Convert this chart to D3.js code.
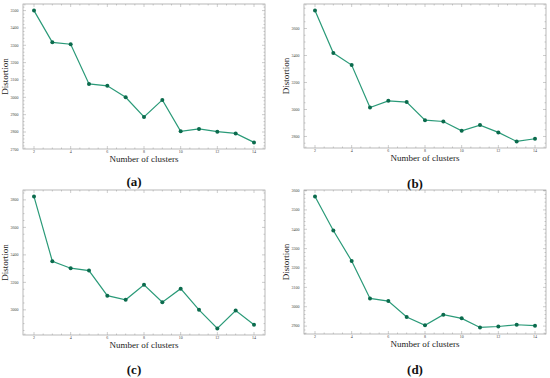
<!DOCTYPE html>
<html>
<head>
<meta charset="utf-8">
<script src="https://cdn.jsdelivr.net/npm/d3@7"></script>
<style>
  body { margin: 0; background: #fff; }
  svg { display: block; }
</style>
</head>
<body>
<script>
// data
var clusters = [2, 3, 4, 5, 6, 7, 8, 9, 10, 11, 12, 13, 14];
var distA = [3500, 3317, 3306, 3077, 3066, 3000, 2887, 2985, 2804, 2818, 2802, 2792, 2740];
var distB = [3733, 3418, 3329, 3015, 3064, 3055, 2921, 2911, 2842, 2884, 2830, 2763, 2783];
var distC = [3824, 3354, 3303, 3286, 3103, 3073, 3183, 3056, 3154, 3000, 2865, 2995, 2892];
var distD = [3569, 3394, 3236, 3043, 3029, 2947, 2904, 2959, 2940, 2893, 2898, 2907, 2902];

var xTicks = [2, 4, 6, 8, 10, 12, 14];
var yTicksA = [2700, 2800, 2900, 3000, 3100, 3200, 3300, 3400, 3500];
var yTicksB = [2800, 3000, 3200, 3400, 3600];
var yTicksC = [3000, 3200, 3400, 3600, 3800];
var yTicksD = [2900, 3000, 3100, 3200, 3300, 3400, 3500, 3600];
var panelLabels = ["(a)", "(b)", "(c)", "(d)"];

var lineColor = "#2a9a78";
var dotColor = "#0b6b4d";
var frameColor = "#9a9a9a";

var svg = d3.select("body").append("svg")
	.attr("width", 550)
	.attr("height", 378);

// frame boxes of the four panels
var panels = [
	{ vals: distA, ticks: yTicksA, yMinor: 20, left: 23, top: 4, right: 265, bottom: 149, labY: 181 },
	{ vals: distB, ticks: yTicksB, yMinor: 50, left: 304, top: 4, right: 546, bottom: 148, labY: 183 },
	{ vals: distC, ticks: yTicksC, yMinor: 50, left: 23, top: 190, right: 265, bottom: 335, labY: 369 },
	{ vals: distD, ticks: yTicksD, yMinor: 20, left: 304, top: 190, right: 546, bottom: 334, labY: 369 }
];

panels.forEach(function(p, i) {
	var g = svg.append("g");

	// matplotlib-like 5% margins
	var ext = d3.extent(p.vals);
	var pad = (ext[1] - ext[0]) * 0.05;
	var x = d3.scaleLinear().domain([1.4, 14.6]).range([p.left, p.right]);
	var y = d3.scaleLinear().domain([ext[0] - pad, ext[1] + pad]).range([p.bottom, p.top]);

	// minor ticks (inside, all four sides)
	var xMinor = d3.range(1.5, 14.6, 0.5);
	var yMin = Math.ceil(y.domain()[0] / p.yMinor) * p.yMinor;
	var yMinorVals = d3.range(yMin, y.domain()[1], p.yMinor);

	var ticks = g.append("g")
		.attr("stroke", frameColor)
		.attr("stroke-width", 0.5);

	xMinor.forEach(function(v) {
		var big = xTicks.indexOf(v) >= 0;
		var len = big ? 3 : 1.5;
		ticks.append("line").attr("x1", x(v)).attr("x2", x(v))
			.attr("y1", p.bottom).attr("y2", p.bottom - len);
		ticks.append("line").attr("x1", x(v)).attr("x2", x(v))
			.attr("y1", p.top).attr("y2", p.top + len);
	});
	yMinorVals.forEach(function(v) {
		var big = p.ticks.indexOf(v) >= 0;
		var len = big ? 3 : 1.5;
		ticks.append("line").attr("y1", y(v)).attr("y2", y(v))
			.attr("x1", p.left).attr("x2", p.left + len);
		ticks.append("line").attr("y1", y(v)).attr("y2", y(v))
			.attr("x1", p.right).attr("x2", p.right - len);
	});

	g.append("rect")
		.attr("x", p.left).attr("y", p.top)
		.attr("width", p.right - p.left).attr("height", p.bottom - p.top)
		.attr("fill", "none")
		.attr("stroke", frameColor)
		.attr("stroke-width", 0.7);

	// tick labels
	g.selectAll(".xt")
		.data(xTicks)
		.enter().append("text")
		.attr("x", function(d) { return x(d); })
		.attr("y", p.bottom + 4)
		.attr("text-anchor", "middle")
		.attr("font-family", "Liberation Serif")
		.attr("font-size", 4)
		.attr("fill", "#444")
		.text(function(d) { return d; });

	g.selectAll(".yt")
		.data(p.ticks)
		.enter().append("text")
		.attr("x", p.left - 4.5)
		.attr("y", function(d) { return y(d) + 1.3; })
		.attr("text-anchor", "end")
		.attr("font-family", "Liberation Serif")
		.attr("font-size", 4)
		.attr("fill", "#444")
		.text(function(d) { return d; });

	// axis titles
	g.append("text")
		.attr("x", (p.left + p.right) / 2)
		.attr("y", p.bottom + 12.5)
		.attr("text-anchor", "middle")
		.attr("font-family", "Liberation Serif")
		.attr("font-size", 9)
		.attr("fill", "#222")
		.text("Number of clusters");

	g.append("text")
		.attr("transform", "translate(" + (p.left - 15.5) + "," + ((p.top + p.bottom) / 2) + ") rotate(-90)")
		.attr("text-anchor", "middle")
		.attr("font-family", "Liberation Serif")
		.attr("font-size", 9)
		.attr("fill", "#222")
		.text("Distortion");

	// the series
	var line = d3.line()
		.x(function(d, j) { return x(clusters[j]); })
		.y(function(d) { return y(d); });

	g.append("path")
		.datum(p.vals)
		.attr("d", line)
		.attr("fill", "none")
		.attr("stroke", lineColor)
		.attr("stroke-width", 1.2);

	g.selectAll(".dot")
		.data(p.vals)
		.enter().append("circle")
		.attr("cx", function(d, j) { return x(clusters[j]); })
		.attr("cy", function(d) { return y(d); })
		.attr("r", 2)
		.attr("fill", dotColor);

	// sub-figure label
	svg.append("text")
		.attr("x", (p.left + p.right) / 2 - 10)
		.attr("y", p.labY + 4.5)
		.attr("text-anchor", "middle")
		.attr("font-family", "Liberation Serif")
		.attr("font-size", 13)
		.attr("font-weight", "bold")
		.attr("fill", "#111")
		.text(panelLabels[i]);
});
</script>
</body>
</html>
